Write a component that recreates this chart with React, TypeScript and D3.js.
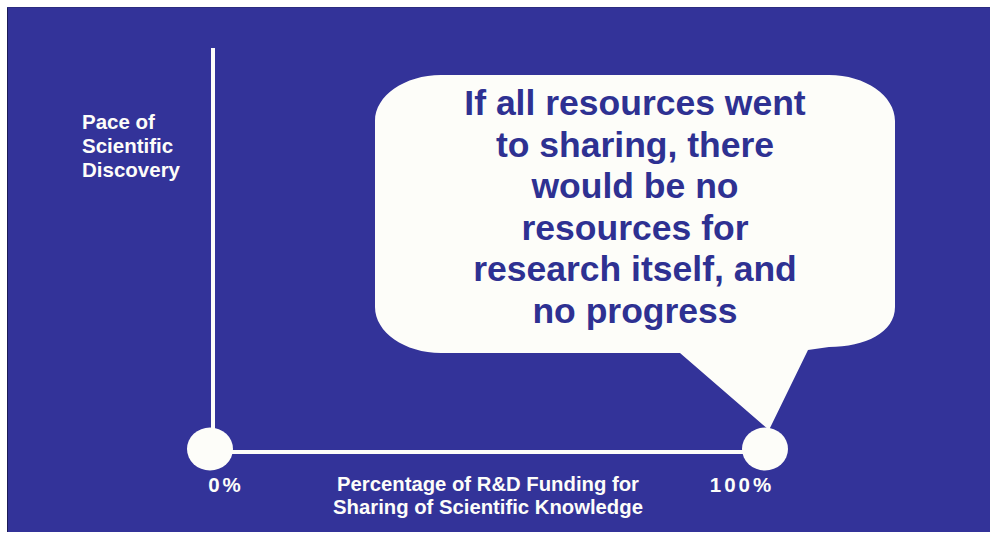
import React from "react";
import * as d3 from "d3";

const categories = ["0%", "100%"];
const shareValues = [0, 100];
const paceValues = [0, 0];
const yAxisLabel = ["Pace of", "Scientific", "Discovery"];
const xAxisLabel = ["Percentage of R&D Funding for", "Sharing of Scientific Knowledge"];
const calloutLines = [
  "If all resources went",
  "to sharing, there",
  "would be no",
  "resources for",
  "research itself, and",
  "no progress",
];

const W = 991;
const H = 535;
const BG = "#333399";
const WHITE = "#fdfdf9";
const FONT = "'Liberation Sans', Arial, Helvetica, sans-serif";

export default function App() {
  const x = d3.scaleLinear().domain([0, 100]).range([210, 765]);
  const y = d3.scaleLinear().domain([0, 1]).range([450, 48]);

  // callout bubble shape
  const bx0 = 375, bx1 = 895, by0 = 75, by1 = 353, rx = 66, ry = 46;
  const tip: [number, number] = [x(100) + 4, y(0) - 20];
  const tailL = 680, tailR = 808;
  const p = d3.path();
  p.moveTo(bx0 + rx, by0);
  p.lineTo(bx1 - rx, by0);
  p.bezierCurveTo(bx1 - rx * 0.45, by0, bx1, by0 + ry * 0.45, bx1, by0 + ry);
  p.lineTo(bx1, by1 - ry);
  p.bezierCurveTo(bx1, by1 - ry * 0.45, bx1 - rx * 0.45, by1 - 6, bx1 - rx, by1 - 6);
  p.lineTo(tailR, by1 - 3);
  p.lineTo(tip[0], tip[1]);
  p.lineTo(tailL, by1);
  p.lineTo(bx0 + rx, by1);
  p.bezierCurveTo(bx0 + rx * 0.45, by1, bx0, by1 - ry * 0.45, bx0, by1 - ry);
  p.lineTo(bx0, by0 + ry);
  p.bezierCurveTo(bx0, by0 + ry * 0.45, bx0 + rx * 0.45, by0, bx0 + rx, by0);
  p.closePath();

  const labelOffsets = [16, -23];

  return (
    <svg
      width={W}
      height={H}
      style={{ position: "absolute", left: 0, top: 0, background: "#ffffff" }}
    >
      <rect x={7} y={7} width={983} height={525} fill={BG} />
      <line x1={7.5} y1={7} x2={7.5} y2={532} stroke="#1b1b55" strokeWidth={1} />
      <line x1={7} y1={7.5} x2={990} y2={7.5} stroke="#2c2c80" strokeWidth={1} />

      {/* axes */}
      <line x1={x(0) + 3} y1={y(1)} x2={x(0) + 3} y2={y(0)} stroke={WHITE} strokeWidth={4} />
      <line x1={x(0)} y1={y(0) + 2} x2={x(100)} y2={y(0) + 2} stroke={WHITE} strokeWidth={4} />

      {/* y axis label */}
      <text fill={WHITE} fontFamily={FONT} fontWeight="bold" fontSize={20.5}>
        {yAxisLabel.map((t, i) => (
          <tspan key={i} x={82} y={129 + i * 24}>
            {t}
          </tspan>
        ))}
      </text>

      {/* x axis title */}
      <text fill={WHITE} fontFamily={FONT} fontWeight="bold" fontSize={20.3} textAnchor="middle">
        {xAxisLabel.map((t, i) => (
          <tspan key={i} x={488} y={491 + i * 23}>
            {t}
          </tspan>
        ))}
      </text>

      {/* callout */}
      <path d={p.toString()} fill={WHITE} />
      <text fill="#2e3192" fontFamily={FONT} fontWeight="bold" fontSize={35.5} textAnchor="middle">
        {calloutLines.map((t, i) => (
          <tspan key={i} x={635} y={115 + i * 41.5}>
            {t}
          </tspan>
        ))}
      </text>

      {/* points */}
      {shareValues.map((v, i) => (
        <g key={categories[i]}>
          <ellipse cx={x(v)} cy={y(paceValues[i]) - 1} rx={23} ry={21.5} fill={WHITE} />
          <text
            x={x(v) + labelOffsets[i]}
            y={492}
            fill={WHITE}
            fontFamily={FONT}
            fontWeight="bold"
            fontSize={20.5}
            letterSpacing={3}
            textAnchor="middle"
          >
            {categories[i]}
          </text>
        </g>
      ))}
    </svg>
  );
}
